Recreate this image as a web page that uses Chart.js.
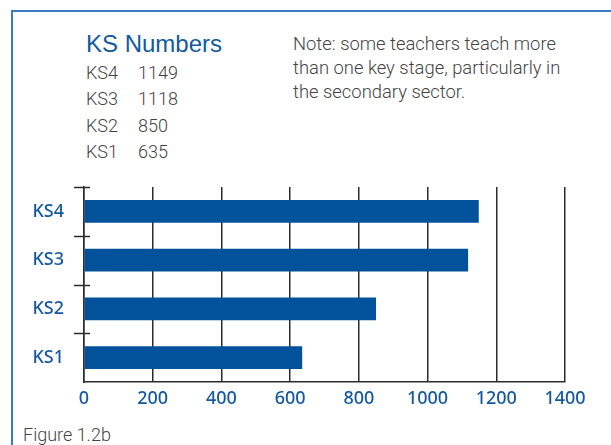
<!DOCTYPE html>
<html>
  <script src="https://cdn.jsdelivr.net/npm/chart.js@4/dist/chart.umd.min.js"></script>
  <style>
    body {
      margin: 0;
      width: 611px;
      height: 445px;
      overflow: hidden;
      background: #fff;
      position: relative;
      font-family: Roboto, "Liberation Sans", sans-serif;
    }
    .frame {
      position: absolute;
      left: 11px;
      top: 10px;
      width: 700px;
      height: 500px;
      border-left: 2px solid #3b7bc4;
      border-top: 2px solid #3b7bc4;
    }
    .title {
      position: absolute;
      left: 86px;
      top: 32px;
      font-family: "Liberation Sans", Arial, sans-serif;
      font-size: 24px;
      line-height: 24px;
      color: #125a9f;
    }
    .list {
      position: absolute;
      left: 86px;
      top: 60px;
      font-size: 18px;
      font-weight: 300;
      line-height: 26.3px;
      color: #444;
    }
    .list .num {
      position: absolute;
      left: 52px;
    }
    .note {
      position: absolute;
      left: 293px;
      top: 32px;
      font-size: 18.4px;
      font-weight: 300;
      line-height: 24px;
      color: #444;
    }
    .caption {
      position: absolute;
      left: 23px;
      top: 425px;
      font-size: 18px;
      font-weight: 300;
      line-height: 20px;
      color: #444;
    }
    #chart {
      position: absolute;
      left: 0;
      top: 0;
    }
  </style>
  <body>
    <div class="frame"></div>
    <div class="title">KS Numbers</div>
    <div class="list" id="list"></div>
    <div class="note">Note: some teachers teach more<br />than one key stage, particularly in<br />the secondary sector.</div>
    <div class="caption">Figure 1.2b</div>
    <canvas id="chart" width="611" height="445"></canvas>

    <script>
      const stages = ["KS4", "KS3", "KS2", "KS1"];
      const teachers = [1149, 1118, 850, 635];
      const xMin = 0;
      const xMax = 1400;
      const xStep = 200;

      const blue = "#01529a";
      const labelBlue = "#14599f";
      const ink = "#2b2b2b";

      // the little number list under the title
      let list = document.getElementById("list");
      for (let i = 0; i < stages.length; i++) {
        let row = document.createElement("div");
        row.style.position = "relative";
        row.innerHTML = stages[i] + '<span class="num">' + teachers[i] + "</span>";
        list.appendChild(row);
      }

      // tick marks on the category axis cross the axis line
      const crossTicks = {
        id: "crossTicks",
        afterDraw(chart) {
          let y = chart.scales.y;
          let ctx = chart.ctx;
          ctx.save();
          ctx.strokeStyle = ink;
          ctx.lineWidth = 1.5;
          for (let i = 0; i < stages.length; i++) {
            let py = Math.round(y.getPixelForValue(i - 0.5)) + 0.5;
            ctx.beginPath();
            ctx.moveTo(y.right - 10, py);
            ctx.lineTo(y.right + 6, py);
            ctx.stroke();
          }
          ctx.restore();
        },
      };

      const labelFont = { family: "'Noto Sans', 'Open Sans'", size: 18, weight: "500" };

      new Chart(document.getElementById("chart"), {
        type: "bar",
        data: {
          labels: stages,
          datasets: [
            {
              data: teachers,
              backgroundColor: blue,
              borderWidth: 0,
              barPercentage: 0.47,
              categoryPercentage: 1,
            },
          ],
        },
        options: {
          indexAxis: "y",
          responsive: false,
          animation: false,
          events: [],
          layout: {
            padding: { left: 0, top: 187, right: 46, bottom: 33 },
          },
          plugins: {
            legend: { display: false },
            tooltip: { enabled: false },
          },
          scales: {
            x: {
              min: xMin,
              max: xMax,
              afterFit(scale) {
                scale.height = 30;
              },
              ticks: {
                stepSize: xStep,
                padding: 6,
                color: labelBlue,
                font: labelFont,
                callback: (v) => String(v),
              },
              grid: {
                color: ink,
                lineWidth: 1.5,
                drawTicks: false,
              },
              border: { color: ink, width: 1.5 },
            },
            y: {
              afterFit(scale) {
                scale.width = 84;
              },
              ticks: {
                padding: 12,
                color: labelBlue,
                font: labelFont,
              },
              grid: { display: false },
              border: { display: true, color: ink, width: 1.5 },
            },
          },
        },
        plugins: [crossTicks],
      });
    </script>
  </body>
</html>
